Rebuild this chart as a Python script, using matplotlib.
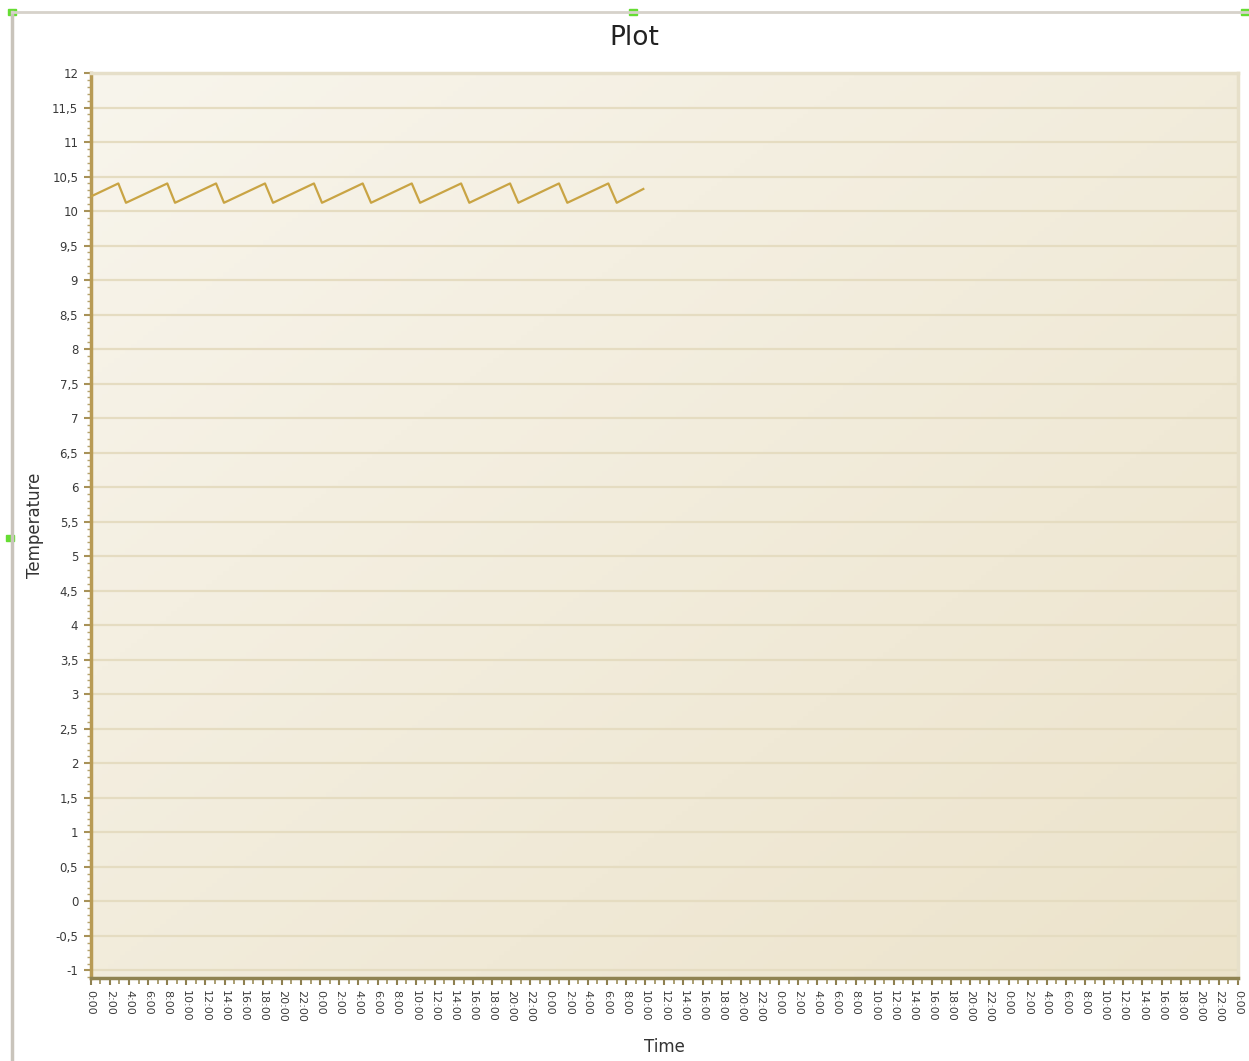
import numpy as np
import matplotlib
matplotlib.use("Agg")
import matplotlib.pyplot as plt
from matplotlib.ticker import MultipleLocator
from matplotlib.patches import Rectangle
from matplotlib.lines import Line2D

# Data: vertices of the temperature trace (hours since start, temperature)
times = [0.0, 2.89, 3.69, 8.01, 8.82, 13.11, 13.94, 18.23, 19.07, 23.35, 24.19,
         28.45, 29.32, 33.58, 34.45, 38.74, 39.60, 43.86, 44.73, 48.98, 49.85,
         54.14, 55.02, 57.80]
temps = [10.21, 10.40, 10.12, 10.40, 10.12, 10.40, 10.12, 10.40, 10.12, 10.40, 10.12,
         10.40, 10.12, 10.40, 10.12, 10.40, 10.12, 10.40, 10.12, 10.40, 10.12,
         10.40, 10.12, 10.32]

tick_hours = list(range(0, 121, 2))
tick_labels = [f"{h % 24}:00" for h in tick_hours]
y_ticks = [v / 2 for v in range(-2, 25)]
y_labels = [("%g" % v).replace(".", ",") for v in y_ticks]

W, H = 1249, 1061
fig = plt.figure(figsize=(W / 100, H / 100), dpi=100)
fig.patch.set_facecolor("white")

# outer designer frame
fig.add_artist(Line2D([12 / W, 12 / W], [0, 1 - 12 / H], color="#c9c4bb", lw=2.5, transform=fig.transFigure))
fig.add_artist(Line2D([12 / W, 1], [1 - 12 / H, 1 - 12 / H], color="#d6d2ca", lw=2, transform=fig.transFigure))
for (hx, hy) in [(12, 12), (633, 12), (1245, 12), (10, 538)]:
    fig.add_artist(Rectangle(((hx - 4) / W, 1 - (hy + 3) / H), 8 / W, 6 / H, color="#66dd33",
                             transform=fig.transFigure))

left, right, top, bottom = 90.7, 1238, 73, 978
ax = fig.add_axes([left / W, 1 - bottom / H, (right - left) / W, (bottom - top) / H])

# gradient background: light at top-left, darker at bottom-right
gx = np.linspace(0, 1, 200)
gy = np.linspace(0, 1, 200)
GX, GY = np.meshgrid(gx, gy)
t = (GX + GY) / 2.0
c0 = np.array([248, 245, 236]) / 255.0
c1 = np.array([236, 227, 203]) / 255.0
img = c0[None, None, :] * (1 - t[..., None]) + c1[None, None, :] * t[..., None]
ax.imshow(img, extent=[0, 1, 0, 1], transform=ax.transAxes, aspect="auto", zorder=0, origin="upper")

ax.set_xlim(0, 120)
ax.set_ylim(-1.11, 12)

ax.plot(times, temps, color="#c9a444", lw=1.6, zorder=3)

ax.set_yticks(y_ticks)
ax.set_yticklabels(y_labels)
ax.yaxis.set_minor_locator(MultipleLocator(0.1))
ax.set_xticks(tick_hours)
ax.set_xticklabels(tick_labels, rotation=-90, va="top", ha="center")
ax.xaxis.set_minor_locator(MultipleLocator(1))

ax.grid(axis="y", which="major", color="#e5dcc1", lw=1.6, zorder=1)
ax.set_axisbelow(True)

ax.tick_params(axis="y", which="major", length=5, width=1.5, color="#a89258", labelsize=8.5,
               labelcolor="#3a3a3a", pad=4)
ax.tick_params(axis="y", which="minor", length=3, width=1, color="#b5a36e")
ax.tick_params(axis="x", which="major", length=5, width=1.5, color="#8e8050", labelsize=8,
               labelcolor="#3a3a3a", pad=4)
ax.tick_params(axis="x", which="minor", length=4, width=1.2, color="#9c8e5a")

for s in ["top", "right"]:
    ax.spines[s].set_color("#e6dfc9")
    ax.spines[s].set_linewidth(2.5)
ax.spines["left"].set_color("#b89b55")
ax.spines["left"].set_linewidth(2.5)
ax.spines["bottom"].set_color("#8f8352")
ax.spines["bottom"].set_linewidth(2.5)

ax.set_ylabel("Temperature", fontsize=12, color="#333333", labelpad=6)
ax.set_xlabel("Time", fontsize=12, color="#333333", labelpad=11)
fig.text(634 / W, 1 - 38 / H, "Plot", fontsize=19, color="#222222", ha="center", va="center",
         fontweight="medium")

fig.savefig("out.png", dpi=100, facecolor="white")
